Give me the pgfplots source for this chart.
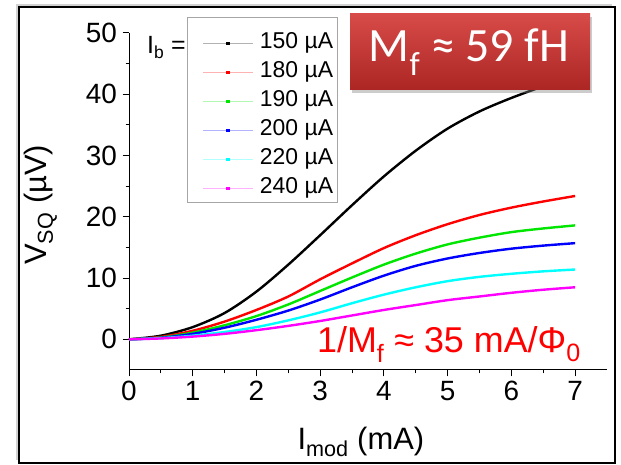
\documentclass[border=0pt]{standalone}
\usepackage{pgfplots}
\pgfplotsset{compat=1.18}
\usepackage{fontspec}
\setmainfont{Liberation Sans}
\newfontfamily\calib{Carlito}
\usetikzlibrary{shadows}
\definecolor{mygreen}{RGB}{0,230,0}
\definecolor{mycyan}{RGB}{0,255,255}
\definecolor{mymag}{RGB}{255,0,255}
\definecolor{boxtop}{RGB}{215,75,72}
\definecolor{boxbot}{RGB}{172,38,36}
\begin{document}
\begin{tikzpicture}[x=1bp,y=1bp]
\path[use as bounding box] (0,0) rectangle (621,465);
\fill[white] (0,0) rectangle (621,465);
\draw[line width=1.5bp, fill=white, drop shadow={shadow xshift=-3bp, shadow yshift=3bp, opacity=0.35}] (19,2) rectangle (615,458);
\begin{axis}[
  at={(129bp,95bp)}, anchor=south west,
  scale only axis, width=478bp, height=337bp,
  xmin=0, xmax=7.5, ymin=-5, ymax=50,
  axis lines*=left, axis line style={-, line width=1bp},
  tick align=outside,
  major tick length=6.5bp, minor tick length=3.5bp,
  every tick/.style={line width=1bp, black},
  xtick={0,1,2,3,4,5,6,7}, ytick={0,10,20,30,40,50},
  minor x tick num=1, minor y tick num=1,
  /pgf/number format/assume math mode=true,
  tick label style={font=\fontsize{28}{28}\selectfont},
  xticklabel style={yshift=-1bp},
  yticklabel style={xshift=-2bp},
  xlabel={I\textsubscript{mod} (mA)},
  ylabel={V\textsubscript{SQ} (µV)},
  label style={font=\fontsize{31}{31}\selectfont},
  xlabel style={at={(axis description cs:0.485,-0.237)}, anchor=base},
  ylabel style={at={(axis description cs:-0.185,0.49)}, anchor=center},
  legend style={at={(axis description cs:0.153,1.0)}, anchor=north west,
    font=\fontsize{23}{25}\selectfont, draw=none, fill=none,
    row sep=9bp, inner sep=0pt, column sep=0pt,
    nodes={inner sep=0pt, text height=15bp, text depth=5bp}},
  legend cell align=left,
  legend image code/.code={
    \draw[#1, line width=1.3bp, draw opacity=0.3] (0bp,0bp) -- (50bp,0bp);
    \fill[#1, draw=none] (23.5bp,-1.6bp) rectangle (26.7bp,1.6bp);
    \path[draw=none, fill=none] (0bp,0bp) -- (57bp,0bp);
  },
  every axis plot/.append style={line width=2.4bp, smooth},
  clip=false,
]
\addplot[black] coordinates {(0,0) (0.5,0.6) (1,2.0) (1.5,4.3) (2,7.8) (2.5,12.2) (3,17.0) (3.5,21.9) (4,26.6) (4.5,30.8) (5,34.4) (5.5,37.2) (6,39.4) (6.5,41.3) (7,43.0)};
\addlegendentry{150 µA}
\addplot[red] coordinates {(0,0) (0.5,0.4) (1,1.4) (1.5,2.9) (2,4.8) (2.5,7.0) (3,9.8) (3.5,12.4) (4,14.9) (4.5,17.0) (5,18.8) (5.5,20.3) (6,21.5) (6.5,22.5) (7,23.4)};
\addlegendentry{180 µA}
\addplot[mygreen] coordinates {(0,0) (0.5,0.3) (1,1.1) (1.5,2.3) (2,3.8) (2.5,5.7) (3,7.9) (3.5,10.1) (4,12.2) (4.5,14.0) (5,15.5) (5.5,16.6) (6,17.5) (6.5,18.1) (7,18.6)};
\addlegendentry{190 µA}
\addplot[blue] coordinates {(0,0) (0.5,0.25) (1,0.9) (1.5,1.9) (2,3.2) (2.5,4.7) (3,6.5) (3.5,8.5) (4,10.4) (4.5,12.0) (5,13.2) (5.5,14.1) (6,14.8) (6.5,15.3) (7,15.7)};
\addlegendentry{200 µA}
\addplot[mycyan] coordinates {(0,0) (0.5,0.2) (1,0.6) (1.5,1.2) (2,2.0) (2.5,3.1) (3,4.4) (3.5,5.9) (4,7.3) (4.5,8.5) (5,9.5) (5.5,10.2) (6,10.7) (6.5,11.1) (7,11.4)};
\addlegendentry{220 µA}
\addplot[mymag] coordinates {(0,0) (0.5,0.15) (1,0.45) (1.5,0.9) (2,1.5) (2.5,2.2) (3,3.0) (3.5,3.9) (4,4.8) (4.5,5.6) (5,6.4) (5.5,7.0) (6,7.6) (6.5,8.1) (7,8.5)};
\addlegendentry{240 µA}
\end{axis}
\draw[gray!70, line width=0.9bp] (187,263) rectangle (337,448);
\node[anchor=base west, font=\fontsize{25}{25}\selectfont, inner sep=0pt] at (147,411) {I\textsubscript{b} =};
\shade[top color=boxtop, bottom color=boxbot, drop shadow={shadow xshift=2bp, shadow yshift=-3bp, opacity=0.4}] (350,375) rectangle (590,451);
\node[anchor=center, text=white, font=\calib\fontsize{48}{48}\selectfont] at (469,413) {M\textsubscript{f} ≈ 59 fH};
\node[anchor=base west, text=red, font=\fontsize{36}{36}\selectfont, inner sep=0pt] at (317,112) {1/M\textsubscript{f} ≈ 35 mA/Φ\textsubscript{0}};
\end{tikzpicture}
\end{document}
